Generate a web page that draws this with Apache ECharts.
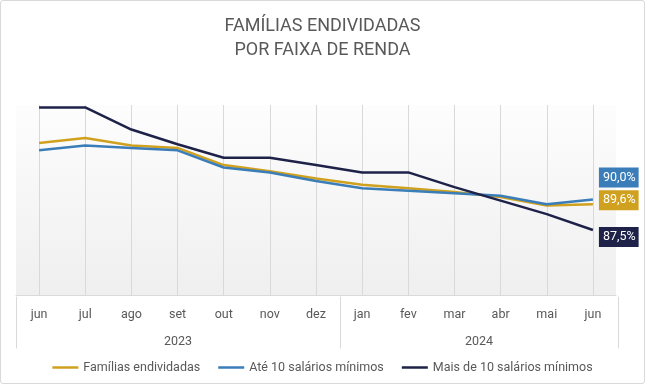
<!DOCTYPE html>
<html>
<head>
<meta charset="utf-8">
<script src="https://cdn.jsdelivr.net/npm/echarts@6/dist/echarts.min.js"></script>
<style>
html,body{margin:0;padding:0;background:#fff;}
#c{width:645px;height:384px;box-sizing:border-box;border:1px solid #d9d9d9;border-radius:3px;}
</style>
</head>
<body>
<div id="c"></div>
<script>
const months = ['jun','jul','ago','set','out','nov','dez','jan','fev','mar','abr','mai','jun'];
const years = ['2023','2024'];
const familias = [94.6, 95.0, 94.4, 94.2, 92.8, 92.3, 91.7, 91.2, 90.9, 90.6, 90.2, 89.5, 89.6];
const ate10 = [94.0, 94.4, 94.2, 94.0, 92.6, 92.2, 91.5, 90.9, 90.7, 90.5, 90.3, 89.6, 90.0];
const mais10 = [97.5, 97.5, 95.7, 94.5, 93.4, 93.4, 92.8, 92.2, 92.2, 91.0, 89.9, 88.8, 87.5];
const seriesNames = ['Famílias endividadas', 'Até 10 salários mínimos', 'Mais de 10 salários mínimos'];
const colors = ['#D0A11E', '#3A7DB8', '#1E2249'];
const labelOffsets = [-4, -22, 7];

const FONT = 'Roboto';
const TXT = '#595959';
const GRIDC = '#d9d9d9';

const chart = echarts.init(document.getElementById('c'), null, {renderer: 'canvas'});

function fmt(v){ return v.toFixed(1).replace('.', ',') + '%'; }

const dataSets = [familias, ate10, mais10];
const series = dataSets.map((d, i) => ({
  name: seriesNames[i],
  type: 'line',
  xAxisIndex: 0,
  yAxisIndex: 0,
  data: d,
  symbol: 'none',
  smooth: false,
  z: 3 + (i === 2 ? 1 : 0),
  lineStyle: {color: colors[i], width: 2.5},
  itemStyle: {color: colors[i]},
  endLabel: {
    show: true,
    formatter: p => fmt(p.value),
    color: '#fff',
    backgroundColor: colors[i],
    fontFamily: FONT,
    fontSize: 12.5,
    padding: [4, 3, 3, 4],
    distance: 6,
    offset: [0, labelOffsets[i]]
  }
}));

chart.setOption({
  animation: false,
  textStyle: {fontFamily: FONT},
  title: {
    text: 'FAMÍLIAS ENDIVIDADAS\nPOR FAIXA DE RENDA',
    left: 'center',
    top: 8,
    textStyle: {fontFamily: FONT, fontSize: 18, fontWeight: 'normal', color: TXT, lineHeight: 24}
  },
  legend: {
    data: seriesNames,
    left: 'center',
    top: 355,
    icon: 'rect',
    itemWidth: 26,
    itemHeight: 2.5,
    itemGap: 18,
    textStyle: {fontFamily: FONT, fontSize: 12.5, color: TXT}
  },
  grid: [
    {left: 15, right: 28, top: 104, bottom: 88, show: true, borderWidth: 0,
     backgroundColor: {type: 'linear', x: 0, y: 0, x2: 0, y2: 1,
       colorStops: [{offset: 0, color: '#fdfdfd'}, {offset: 1, color: '#efefef'}]}},
    {left: 15, top: 296, width: 324, height: 51},
    {left: 339, top: 296, width: 278, height: 51}
  ],
  xAxis: [
    {type: 'category', gridIndex: 0, data: months, boundaryGap: true,
     axisLine: {show: true, lineStyle: {color: GRIDC, width: 1}},
     axisTick: {show: false},
     axisLabel: {interval: 0, margin: 13, color: TXT, fontSize: 12.5, fontFamily: FONT},
     splitLine: {show: true, interval: 0, alignWithLabel: true, lineStyle: {color: GRIDC, width: 1}}},
    {type: 'category', gridIndex: 1, data: [years[0]], position: 'top',
     axisLine: {show: false}, axisTick: {show: false},
     axisLabel: {inside: true, margin: 38, color: TXT, fontSize: 12.5, fontFamily: FONT}},
    {type: 'category', gridIndex: 2, data: [years[1]], position: 'top',
     axisLine: {show: false}, axisTick: {show: false},
     axisLabel: {inside: true, margin: 38, color: TXT, fontSize: 12.5, fontFamily: FONT}}
  ],
  yAxis: [
    {type: 'value', gridIndex: 0, min: 82.2, max: 97.7, show: false},
    {type: 'value', gridIndex: 1, min: 0, max: 1, position: 'left',
     axisLine: {show: true, lineStyle: {color: GRIDC}}, axisTick: {show: false},
     axisLabel: {show: false}, splitLine: {show: false}},
    {type: 'value', gridIndex: 2, min: 0, max: 1, position: 'left',
     axisLine: {show: true, lineStyle: {color: GRIDC}}, axisTick: {show: false},
     axisLabel: {show: false}, splitLine: {show: false}},
    {type: 'value', gridIndex: 2, min: 0, max: 1, position: 'right',
     axisLine: {show: true, lineStyle: {color: GRIDC}}, axisTick: {show: false},
     axisLabel: {show: false}, splitLine: {show: false}}
  ],
  series: series
});
</script>
</body>
</html>
